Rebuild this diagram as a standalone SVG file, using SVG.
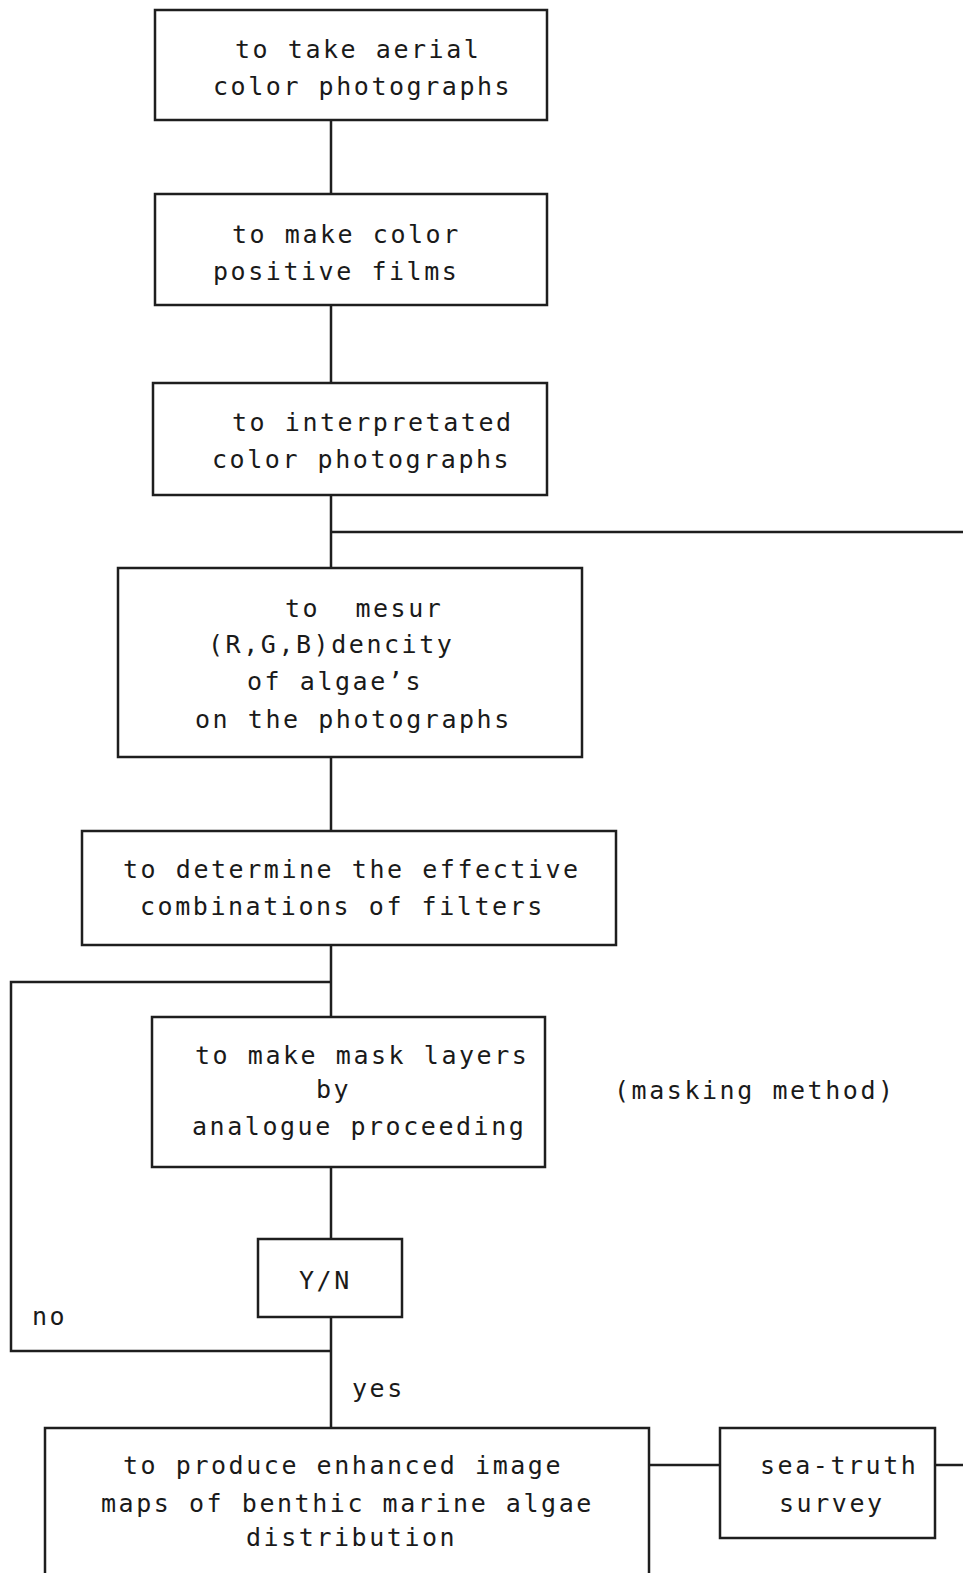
<svg xmlns="http://www.w3.org/2000/svg" width="963" height="1573" viewBox="0 0 963 1573">
<style>
.box{fill:none;stroke:#1e1e1e;stroke-width:2.5}
.ln{fill:none;stroke:#1e1e1e;stroke-width:2.5}
text{font-family:"DejaVu Sans Mono","Liberation Mono",monospace;font-size:25px;letter-spacing:2.55px;fill:#1a1a1a}
</style>
<rect width="963" height="1573" fill="#ffffff"/>
<g id="connectors">
<path class="ln" d="M331 120V194M331 305V383M331 495V568M331 532H963M331 757V831M331 945V1017M331 982H11V1351H331M331 1167V1239M331 1317V1428M649 1465H720M935 1465H963"/>
</g>
<g id="n1"><rect class="box" x="155" y="10" width="392" height="110"/>
<text x="235" y="58">to take aerial</text><text x="213" y="95">color photographs</text></g>
<g id="n2"><rect class="box" x="155" y="194" width="392" height="111"/>
<text x="232" y="243">to make color</text><text x="213" y="280">positive films</text></g>
<g id="n3"><rect class="box" x="153" y="383" width="394" height="112"/>
<text x="232" y="431">to interpretated</text><text x="212" y="468">color photographs</text></g>
<g id="n4"><rect class="box" x="118" y="568" width="464" height="189"/>
<text x="285" y="617" xml:space="preserve">to  mesur</text><text x="208" y="653">(R,G,B)dencity</text><text x="247" y="690">of algae’s</text><text x="195" y="728">on the photographs</text></g>
<g id="n5"><rect class="box" x="82" y="831" width="534" height="114"/>
<text x="123" y="878">to determine the effective</text><text x="140" y="915">combinations of filters</text></g>
<g id="n6"><rect class="box" x="152" y="1017" width="393" height="150"/>
<text x="195" y="1064">to make mask layers</text><text x="316" y="1098">by</text><text x="192" y="1135">analogue proceeding</text></g>
<g id="note"><text x="614" y="1099">(masking method)</text></g>
<g id="n7"><rect class="box" x="258" y="1239" width="144" height="78"/>
<text x="299" y="1289">Y/N</text></g>
<g id="labels"><text x="32" y="1325">no</text><text x="352" y="1397">yes</text></g>
<g id="n8"><rect class="box" x="45" y="1428" width="604" height="170"/>
<text x="123" y="1474">to produce enhanced image</text><text x="101" y="1512">maps of benthic marine algae</text><text x="246" y="1546">distribution</text></g>
<g id="n9"><rect class="box" x="720" y="1428" width="215" height="110"/>
<text x="760" y="1474">sea-truth</text><text x="779" y="1512">survey</text></g>
</svg>
